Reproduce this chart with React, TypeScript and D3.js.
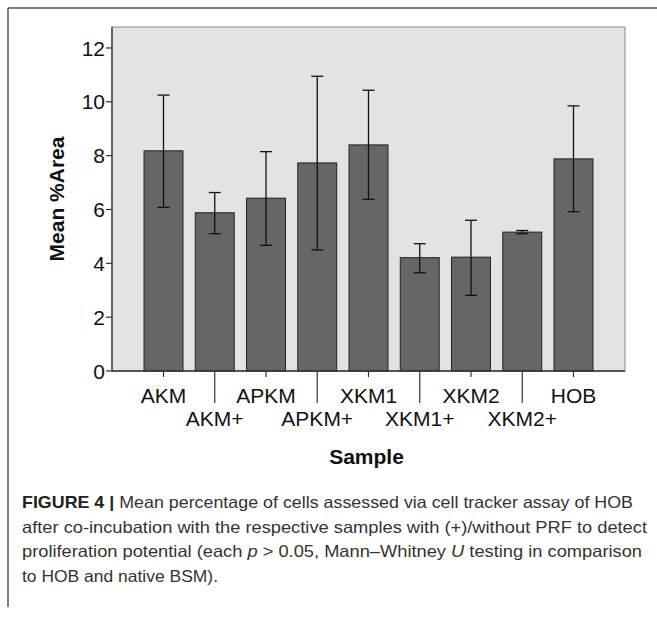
import * as d3 from 'd3'

const SAMPLES = ['AKM', 'AKM+', 'APKM', 'APKM+', 'XKM1', 'XKM1+', 'XKM2', 'XKM2+', 'HOB']
const MEANS = [8.18, 5.88, 6.42, 7.73, 8.4, 4.21, 4.23, 5.16, 7.88]
const UPPER = [10.25, 6.63, 8.15, 10.95, 10.43, 4.73, 5.6, 5.22, 9.85]
const LOWER = [6.08, 5.1, 4.67, 4.5, 6.38, 3.65, 2.81, 5.1, 5.92]
const Y_TICKS = [0, 2, 4, 6, 8, 10, 12]

const W = 657
const H = 618
const PLOT = { left: 112, right: 625, top: 27, bottom: 371 }
const FONT = 'Arial, "Liberation Sans", Helvetica, sans-serif'

export default function App() {
  const x = d3.scaleBand<string>()
    .domain(SAMPLES)
    .range([PLOT.left, PLOT.right])
    .paddingInner(0.24)
    .paddingOuter(0.625)

  const y = d3.scaleLinear()
    .domain([0, 12.78])
    .range([PLOT.bottom, PLOT.top])

  const bw = x.bandwidth()
  const cap = 6

  return (
    <div style={{ position: 'absolute', left: 0, top: 0 }}>
      <svg width={W} height={H} style={{ display: 'block', background: '#fff' }}>
        {/* figure frame */}
        <line x1={8} x2={W} y1={8} y2={8} stroke="#555" strokeWidth={1.5} />
        <line x1={8} x2={8} y1={8} y2={607} stroke="#555" strokeWidth={1.5} />

        {/* plot background */}
        <rect
          x={PLOT.left}
          y={PLOT.top}
          width={PLOT.right - PLOT.left}
          height={PLOT.bottom - PLOT.top}
          fill="#e3e3e3"
          stroke="#8a8a8a"
          strokeWidth={1}
        />

        {/* bars */}
        {SAMPLES.map((s, i) => (
          <rect
            key={s}
            x={x(s)}
            y={y(MEANS[i])}
            width={bw}
            height={y(0) - y(MEANS[i])}
            fill="#666"
            stroke="#222"
            strokeWidth={1}
          />
        ))}

        {/* error bars */}
        {SAMPLES.map((s, i) => {
          const cx = (x(s) ?? 0) + bw / 2
          return (
            <g key={s} stroke="#111" strokeWidth={1.3}>
              <line x1={cx} x2={cx} y1={y(UPPER[i])} y2={y(LOWER[i])} />
              <line x1={cx - cap} x2={cx + cap} y1={y(UPPER[i])} y2={y(UPPER[i])} />
              <line x1={cx - cap} x2={cx + cap} y1={y(LOWER[i])} y2={y(LOWER[i])} />
            </g>
          )
        })}

        {/* axes */}
        <line x1={PLOT.left} x2={PLOT.left} y1={PLOT.top} y2={PLOT.bottom} stroke="#333" strokeWidth={1.3} />
        <line x1={PLOT.left} x2={PLOT.right} y1={PLOT.bottom} y2={PLOT.bottom} stroke="#333" strokeWidth={1.3} />

        {/* y ticks */}
        {Y_TICKS.map(t => (
          <g key={t}>
            <line x1={PLOT.left - 6} x2={PLOT.left} y1={y(t)} y2={y(t)} stroke="#333" strokeWidth={1.2} />
            <text
              x={PLOT.left - 7}
              y={y(t)}
              dy="0.36em"
              textAnchor="end"
              fontFamily={FONT}
              fontSize={21}
              fill="#111"
            >
              {t}
            </text>
          </g>
        ))}

        {/* x ticks and labels, staggered */}
        {SAMPLES.map((s, i) => {
          const cx = (x(s) ?? 0) + bw / 2
          const low = i % 2 === 1
          return (
            <g key={s}>
              <line
                x1={cx}
                x2={cx}
                y1={PLOT.bottom}
                y2={low ? 403 : 377}
                stroke="#333"
                strokeWidth={1.2}
              />
              <text
                x={cx}
                y={low ? 426 : 403}
                textAnchor="middle"
                fontFamily={FONT}
                fontSize={21}
                fill="#111"
              >
                {s}
              </text>
            </g>
          )
        })}

        {/* axis titles */}
        <text
          x={(PLOT.left + PLOT.right) / 2 - 2}
          y={464}
          textAnchor="middle"
          fontFamily={FONT}
          fontWeight="bold"
          fontSize={21}
          fill="#111"
        >
          Sample
        </text>
        <text
          transform={`translate(64, ${(PLOT.top + PLOT.bottom) / 2}) rotate(-90)`}
          textAnchor="middle"
          fontFamily={FONT}
          fontWeight="bold"
          fontSize={21}
          fill="#111"
        >
          Mean %Area
        </text>

        {/* caption */}
        <g fontFamily={FONT} fontSize={16.5} fill="#333">
          <text x={22} y={508} textLength={611} lengthAdjust="spacingAndGlyphs">
            <tspan fontWeight="bold" fill="#222">FIGURE 4 |</tspan> Mean percentage of cells assessed via cell tracker assay of HOB
          </text>
          <text x={22} y={532.5} textLength={625} lengthAdjust="spacingAndGlyphs">
            after co-incubation with the respective samples with (+)/without PRF to detect
          </text>
          <text x={22} y={557} textLength={620} lengthAdjust="spacingAndGlyphs">
            proliferation potential (each <tspan fontStyle="italic">p</tspan> &gt; 0.05, Mann–Whitney <tspan fontStyle="italic">U</tspan> testing in comparison
          </text>
          <text x={22} y={581.5} textLength={196} lengthAdjust="spacingAndGlyphs">
            to HOB and native BSM).
          </text>
        </g>
      </svg>
    </div>
  )
}
